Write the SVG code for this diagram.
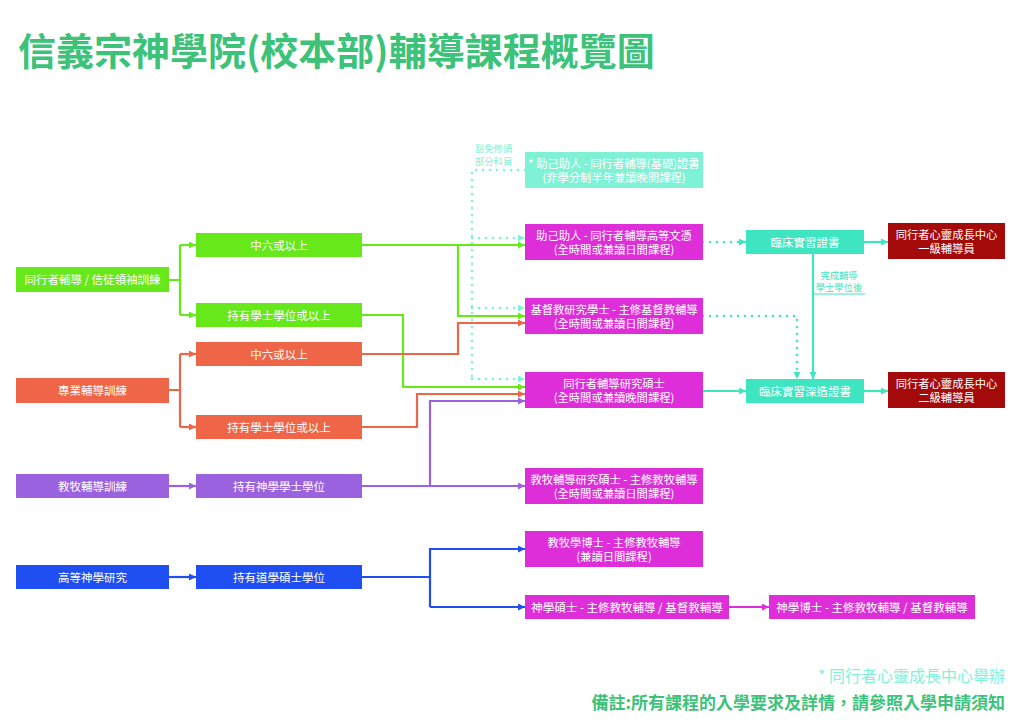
<svg xmlns="http://www.w3.org/2000/svg" width="1024" height="724" viewBox="0 0 1024 724">
<style>
text{font-family:"Noto Sans CJK TC","Noto Sans CJK SC",sans-serif}
.t{fill:#fff;font-size:11.5px;text-anchor:middle}
.t2{fill:#fff;font-size:11.3px;text-anchor:middle}
.g{fill:#66e81a}.r{fill:#ef6547}.p{fill:#9b62e0}.b{fill:#1f4ff2}.m{fill:#de2ed9}.tl{fill:#3de6c0}.lt{fill:#7ff2d6}.dr{fill:#a50a0a}
.c{fill:none;stroke-width:2.2}
.cg{stroke:#66e81a}.cr{stroke:#ef6547}.cp{stroke:#9b62e0}.cb{stroke:#1f4ff2}.cm{stroke:#de2ed9}.ct{stroke:#3de6c0}
.dot{fill:none;stroke:#7ff2d6;stroke-width:2.6;stroke-dasharray:0 7;stroke-linecap:round}
.dot2{fill:none;stroke:#3de6c0;stroke-width:2.6;stroke-dasharray:0 7;stroke-linecap:round}
</style>
<defs>
<marker id="ag" markerUnits="userSpaceOnUse" markerWidth="7" markerHeight="7" refX="7" refY="3.5" orient="auto"><path d="M0,0L7,3.5L0,7z" fill="#66e81a"/></marker>
<marker id="ar" markerUnits="userSpaceOnUse" markerWidth="7" markerHeight="7" refX="7" refY="3.5" orient="auto"><path d="M0,0L7,3.5L0,7z" fill="#ef6547"/></marker>
<marker id="ap" markerUnits="userSpaceOnUse" markerWidth="7" markerHeight="7" refX="7" refY="3.5" orient="auto"><path d="M0,0L7,3.5L0,7z" fill="#9b62e0"/></marker>
<marker id="ab" markerUnits="userSpaceOnUse" markerWidth="7" markerHeight="7" refX="7" refY="3.5" orient="auto"><path d="M0,0L7,3.5L0,7z" fill="#1f4ff2"/></marker>
<marker id="am" markerUnits="userSpaceOnUse" markerWidth="7" markerHeight="7" refX="7" refY="3.5" orient="auto"><path d="M0,0L7,3.5L0,7z" fill="#de2ed9"/></marker>
<marker id="at" markerUnits="userSpaceOnUse" markerWidth="7" markerHeight="7" refX="7" refY="3.5" orient="auto"><path d="M0,0L7,3.5L0,7z" fill="#3de6c0"/></marker>
<marker id="al" markerUnits="userSpaceOnUse" markerWidth="7" markerHeight="7" refX="7" refY="3.5" orient="auto"><path d="M0,0L7,3.5L0,7z" fill="#7ff2d6"/></marker>
</defs>
<rect width="1024" height="724" fill="#fff"/>
<text x="18" y="65" font-size="38" font-weight="700" fill="#3dc27a">信義宗神學院(校本部)輔導課程概覽圖</text>

<g id="connectors">
<path class="dot" d="M525,170H472V379"/>
<path class="dot" d="M472,238H525" marker-end="url(#al)"/>
<path class="dot" d="M472,308H525" marker-end="url(#al)"/>
<path class="dot" d="M472,379H525" marker-end="url(#al)"/>
<path class="dot2" d="M703,242H746" marker-end="url(#at)"/>
<path class="dot2" d="M703,316H797V379" marker-end="url(#at)"/>
<path class="c cg" d="M169,280H180M180,245V315"/>
<path class="c cg" d="M180,245H196" marker-end="url(#ag)"/>
<path class="c cg" d="M180,315H196" marker-end="url(#ag)"/>
<path class="c cg" d="M362,245H525" marker-end="url(#ag)"/>
<path class="c cg" d="M458,245V316H525" marker-end="url(#ag)"/>
<path class="c cg" d="M362,315H403V387H525" marker-end="url(#ag)"/>
<path class="c cr" d="M169,390H180M180,354V427"/>
<path class="c cr" d="M180,354H196" marker-end="url(#ar)"/>
<path class="c cr" d="M180,427H196" marker-end="url(#ar)"/>
<path class="c cr" d="M362,354H458V323H525" marker-end="url(#ar)"/>
<path class="c cr" d="M362,427H417V394H525" marker-end="url(#ar)"/>
<path class="c cp" d="M169,486H196" marker-end="url(#ap)"/>
<path class="c cp" d="M362,486H525" marker-end="url(#ap)"/>
<path class="c cp" d="M430,486V401H525" marker-end="url(#ap)"/>
<path class="c cb" d="M169,577H196" marker-end="url(#ab)"/>
<path class="c cb" d="M362,577H430M430,548V607"/>
<path class="c cb" d="M430,549H525" marker-end="url(#ab)"/>
<path class="c cb" d="M430,607H525" marker-end="url(#ab)"/>
<path class="c cm" d="M729,607H769" marker-end="url(#am)"/>
<path class="c ct" d="M813,254V379" marker-end="url(#at)"/>
<path class="c ct" d="M703,391H746" marker-end="url(#at)"/>
<path class="c ct" d="M864,242H888" marker-end="url(#at)"/>
<path class="c ct" d="M864,391H888" marker-end="url(#at)"/>
<path d="M814,294H865" stroke="#3de6c0" stroke-width="1" fill="none"/>
<text x="839" y="279" font-size="9.3" fill="#3de6c0" text-anchor="middle">完成輔導</text>
<text x="839" y="291" font-size="9.3" fill="#3de6c0" text-anchor="middle">學士學位後</text>
<text x="475" y="152" font-size="9.3" fill="#7ff2d6">豁免修讀</text>
<text x="475" y="164.5" font-size="9.3" fill="#7ff2d6">部分科目</text>
</g>

<g id="n-peer"><rect class="g" x="16" y="267" width="153" height="25"/><text class="t" x="92.5" y="284">同行者輔導 / 信徒領袖訓練</text></g>
<g id="n-g-f6"><rect class="g" x="196" y="233" width="166" height="24"/><text class="t" x="279" y="249.5">中六或以上</text></g>
<g id="n-g-ba"><rect class="g" x="196" y="303" width="166" height="24"/><text class="t" x="279" y="319.5">持有學士學位或以上</text></g>
<g id="n-prof"><rect class="r" x="16" y="378" width="153" height="25"/><text class="t" x="92.5" y="395">專業輔導訓練</text></g>
<g id="n-r-f6"><rect class="r" x="196" y="342" width="166" height="24"/><text class="t" x="279" y="358.5">中六或以上</text></g>
<g id="n-r-ba"><rect class="r" x="196" y="415" width="166" height="24"/><text class="t" x="279" y="431.5">持有學士學位或以上</text></g>
<g id="n-past"><rect class="p" x="16" y="474" width="153" height="24"/><text class="t" x="92.5" y="490.5">教牧輔導訓練</text></g>
<g id="n-bth"><rect class="p" x="196" y="474" width="166" height="24"/><text class="t" x="279" y="490.5">持有神學學士學位</text></g>
<g id="n-adv"><rect class="b" x="16" y="565" width="153" height="24"/><text class="t" x="92.5" y="581.5">高等神學研究</text></g>
<g id="n-mdiv"><rect class="b" x="196" y="565" width="166" height="24"/><text class="t" x="279" y="581.5">持有道學碩士學位</text></g>

<g id="n-cert"><rect class="lt" x="525" y="152" width="178" height="36"/><text class="t2" x="614" y="167.5">* 助己助人 - 同行者輔導(基礎)證書</text><text class="t2" x="614" y="181.5">(非學分制半年兼讀晚間課程)</text></g>
<g id="n-dip"><rect class="m" x="525" y="224" width="178" height="36"/><text class="t2" x="614" y="240">助己助人 - 同行者輔導高等文憑</text><text class="t2" x="614" y="254">(全時間或兼讀日間課程)</text></g>
<g id="n-bcs"><rect class="m" x="525" y="298" width="178" height="36"/><text class="t2" x="614" y="314">基督教研究學士 - 主修基督教輔導</text><text class="t2" x="614" y="328">(全時間或兼讀日間課程)</text></g>
<g id="n-ma"><rect class="m" x="525" y="372" width="178" height="36"/><text class="t2" x="614" y="388">同行者輔導研究碩士</text><text class="t2" x="614" y="402">(全時間或兼讀晚間課程)</text></g>
<g id="n-mapc"><rect class="m" x="525" y="468" width="178" height="36"/><text class="t2" x="614" y="484">教牧輔導研究碩士 - 主修教牧輔導</text><text class="t2" x="614" y="498">(全時間或兼讀日間課程)</text></g>
<g id="n-dmin"><rect class="m" x="525" y="531" width="178" height="36"/><text class="t2" x="614" y="547">教牧學博士 - 主修教牧輔導</text><text class="t2" x="614" y="561">(兼讀日間課程)</text></g>
<g id="n-thm"><rect class="m" x="525" y="595" width="204" height="24"/><text class="t" x="627" y="611.5">神學碩士 - 主修教牧輔導 / 基督教輔導</text></g>
<g id="n-thd"><rect class="m" x="769" y="595" width="206" height="24"/><text class="t" x="872" y="611.5">神學博士 - 主修教牧輔導 / 基督教輔導</text></g>
<g id="n-clin1"><rect class="tl" x="746" y="230" width="118" height="24"/><text class="t" x="805" y="246.5">臨床實習證書</text></g>
<g id="n-clin2"><rect class="tl" x="746" y="379" width="118" height="24"/><text class="t" x="805" y="395.5">臨床實習深造證書</text></g>
<g id="n-lv1"><rect class="dr" x="888" y="223" width="117" height="36"/><text class="t2" x="946.5" y="239">同行者心靈成長中心</text><text class="t2" x="946.5" y="253">一級輔導員</text></g>
<g id="n-lv2"><rect class="dr" x="888" y="372" width="117" height="36"/><text class="t2" x="946.5" y="388">同行者心靈成長中心</text><text class="t2" x="946.5" y="402">二級輔導員</text></g>

<text x="1005" y="681.5" font-size="16" fill="#7ff2d6" text-anchor="end">* 同行者心靈成長中心舉辦</text>
<text x="1005" y="709" font-size="17" font-weight="700" fill="#3dc27a" text-anchor="end">備註:所有課程的入學要求及詳情，請參照入學申請須知</text>
</svg>
